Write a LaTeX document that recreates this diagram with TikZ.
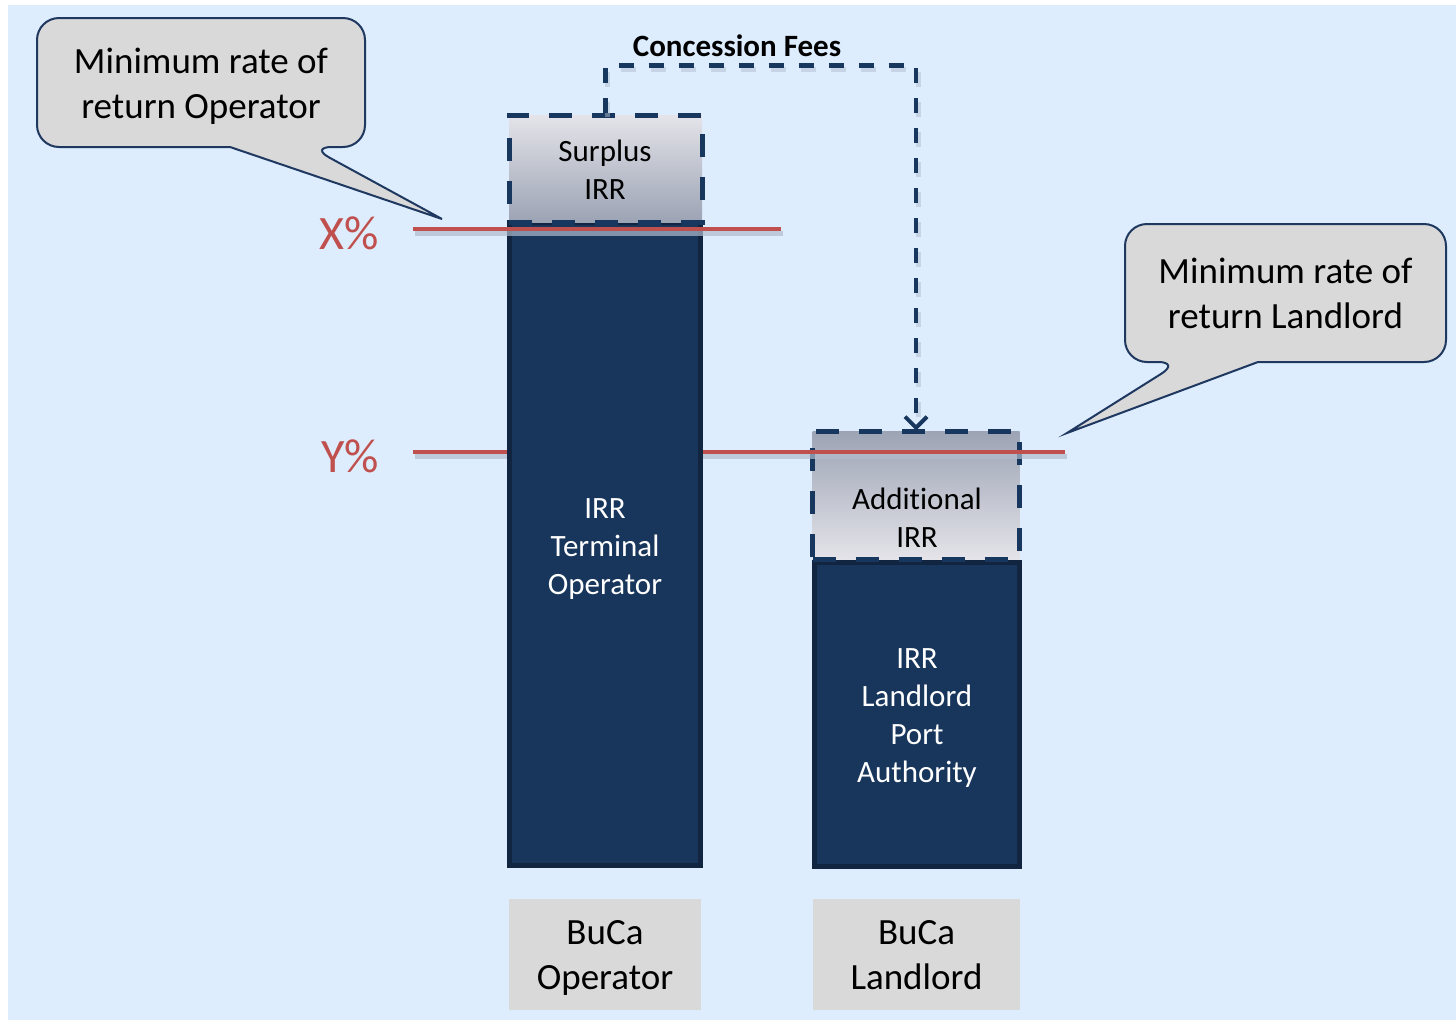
\documentclass[tikz,border=0pt]{standalone}
\usepackage{fontspec}
\setmainfont{Carlito}[Ligatures=NoCommon]
\usetikzlibrary{arrows.meta}

\definecolor{bgblue}{RGB}{222,237,254}
\definecolor{navy}{RGB}{24,54,92}
\definecolor{navyedge}{RGB}{17,37,64}
\definecolor{dashnavy}{RGB}{23,55,94}
\definecolor{minred}{RGB}{192,80,77}
\definecolor{calloutgrey}{RGB}{217,217,217}
\definecolor{calloutedge}{RGB}{31,56,96}
\definecolor{lightshade}{RGB}{228,228,233}
\definecolor{darkshade}{RGB}{156,163,180}
\definecolor{shadowgrey}{RGB}{176,188,206}
\definecolor{labelgrey}{RGB}{217,217,217}

\tikzset{
  bigtext/.style={font=\fontsize{37}{45}\selectfont, align=center},
  bartext/.style={font=\fontsize{31}{38}\selectfont, align=center},
  irrbar/.style={rectangle, draw=navyedge, fill=navy, line width=5pt,
    inner sep=0pt},
  irrextra/.style={rectangle, draw=dashnavy, line width=5pt,
    dash pattern=on 23pt off 20pt, inner sep=0pt, bartext},
  calloutshape/.style={fill=calloutgrey, draw=calloutedge, line width=2pt,
    rounded corners=22pt},
  rateline/.style={draw=minred, line width=4pt},
  rateshadow/.style={draw=shadowgrey, line width=5pt, opacity=0.7},
  ratelabel/.style={text=minred, font=\fontsize{48}{56}\selectfont},
  feeflow/.style={draw=dashnavy, line width=4.5pt, dash pattern=on 15pt off 15pt,
    -{Straight Barb[length=11pt,width=22pt,line width=4pt]}},
  feeshadow/.style={draw=shadowgrey, line width=5pt, dash pattern=on 15pt off 15pt,
    opacity=0.5},
  ownerbox/.style={rectangle, fill=labelgrey, inner sep=0pt,
    minimum width=192pt, minimum height=111pt},
}

\begin{document}
\begin{tikzpicture}[x=1pt, y=-1pt]
  \useasboundingbox (0,0) rectangle (1456,1021);
  \fill[bgblue] (8,5) rectangle (1456,1020);

  % landlord column: IRR bar with the additional IRR on top
  \node[irrbar, minimum width=205pt, minimum height=304pt] (ldbar) at (917,714) {};
  \node[bartext, text=white] (ldbartext) at (917,718) {IRR\\Landlord\\Port\\Authority};
  \node[irrextra, top color=darkshade, bottom color=lightshade,
    minimum width=207pt, minimum height=128pt] (addl) at (916,495) {};
  \node[bartext] (addltext) at (917,518) {Additional\\IRR};

  % Y% threshold, hidden behind the operator bar
  \coordinate (ystart) at (413,452);
  \coordinate (yend) at (1065,452);
  \draw[rateshadow] ([shift={(2,4)}]ystart) -- ([shift={(2,4)}]yend);
  \draw[rateline] (ystart) -- (yend);

  % operator column: IRR bar with the surplus IRR on top
  \node[irrbar, minimum width=191pt, minimum height=643pt] (opbar) at (605,544) {};
  \node[bartext, text=white] (opbartext) at (605,549) {IRR\\Terminal\\Operator};
  \node[irrextra, top color=lightshade, bottom color=darkshade,
    minimum width=193pt, minimum height=107pt] (surplus) at (605.5,168.5) {};
  \node[bartext] (surplustext) at (605,170) {Surplus\\IRR};

  % X% threshold
  \coordinate (xstart) at (413,229);
  \coordinate (xend) at (781,229);
  \draw[rateshadow] ([shift={(2,4)}]xstart) -- ([shift={(2,4)}]xend);
  \draw[rateline] (xstart) -- (xend);

  \node[ratelabel] (xrate) at (349,233) {X\%};
  \node[ratelabel] (yrate) at (350,456) {Y\%};

  % concession fees flowing from the surplus to the landlord
  \draw[feeshadow] ([shift={(2,4)}]surplus.north) -- ++(0,-47) -| ([shift={(2,-4)}]addl.north);
  \draw[feeflow] (surplus.north) -- ++(0,-47) -| ([yshift=-2pt]addl.north);
  \node[font=\fontsize{31}{38}\selectfont\bfseries] (fees) at (737,46) {Concession Fees};

  % callout for the operator's minimum rate of return
  \coordinate (opbaseL) at (230,147);
  \coordinate (opbaseR) at (310,147);
  \coordinate (optip) at (442,219);
  \path[calloutshape] (opbaseL) -- (37,147) -- (37,18) -- (365,18) -- (365,147)
    -- (opbaseR) [sharp corners] -- (optip) -- cycle;
  \node[bigtext] (opnote) at (201,86) {Minimum rate of\\return Operator};

  % callout for the landlord's minimum rate of return
  \coordinate (ldbaseL) at (1180,362);
  \coordinate (ldbaseR) at (1258,362);
  \coordinate (ldtip) at (1067,433);
  \path[calloutshape] (ldbaseR) -- (1446,362) -- (1446,224) -- (1125,224) -- (1125,362)
    -- (ldbaseL) [sharp corners] -- (ldtip) -- cycle;
  \node[bigtext] (ldnote) at (1285.5,293) {Minimum rate of\\return Landlord};

  % column captions
  \node[ownerbox] (opowner) at (605,954.5) {};
  \node[bigtext] (opownertext) at (605,958) {BuCa\\Operator};
  \node[ownerbox, minimum width=207pt] (ldowner) at (916.5,954.5) {};
  \node[bigtext] (ldownertext) at (916.5,955) {BuCa\\Landlord};
\end{tikzpicture}
\end{document}
